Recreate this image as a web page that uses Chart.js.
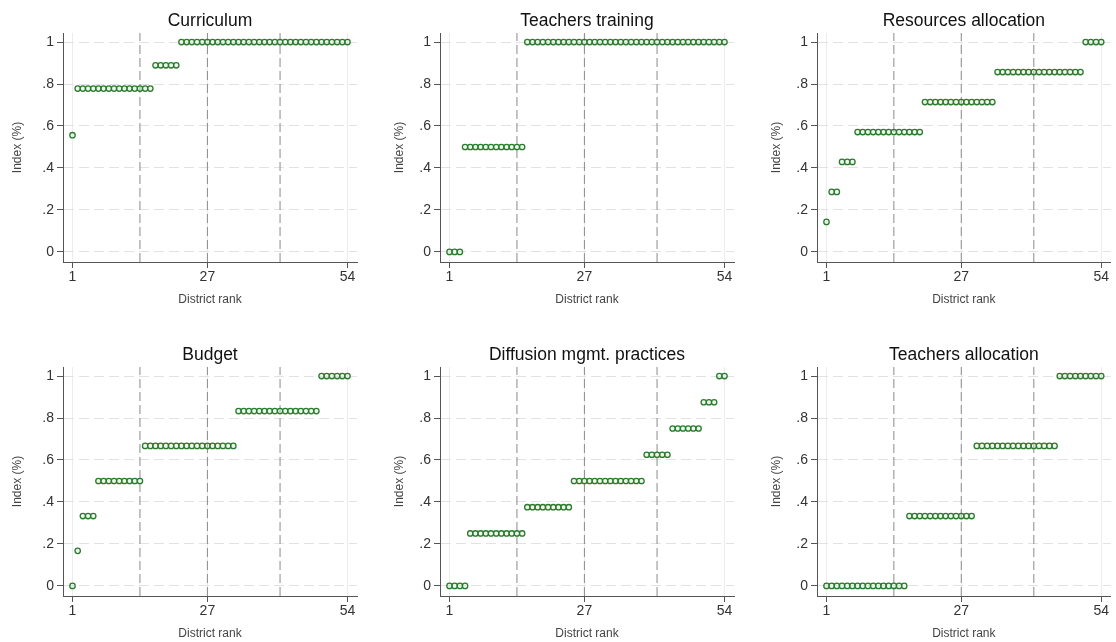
<!DOCTYPE html>
<html lang="en">
<head>
  <meta charset="UTF-8">
  <title>District rank indices</title>
  <script src="https://cdn.jsdelivr.net/npm/chart.js"></script>
  <style>
    html, body { margin: 0; padding: 0; background: #fff; overflow: hidden; }
    .panel { position: absolute; width: 372px; height: 334px; }
  </style>
</head>
<body>

  <div class="panel" style="left:0;top:0"><canvas id="p1"></canvas></div>
  <div class="panel" style="left:372px;top:0"><canvas id="p2"></canvas></div>
  <div class="panel" style="left:744px;top:0"><canvas id="p3"></canvas></div>
  <div class="panel" style="left:0;top:334px"><canvas id="p4"></canvas></div>
  <div class="panel" style="left:372px;top:334px"><canvas id="p5"></canvas></div>
  <div class="panel" style="left:744px;top:334px"><canvas id="p6"></canvas></div>

<script>
  // x: district rank, ticks and the dashed quartile lines
  const districtRank = [
     1, 2, 3, 4, 5, 6, 7, 8, 9,10,11,12,13,14,15,16,17,18,
    19,20,21,22,23,24,25,26,27,28,29,30,31,32,33,34,35,36,
    37,38,39,40,41,42,43,44,45,46,47,48,49,50,51,52,53,54
  ];
  const xTicks       = [1, 27, 54];
  const quartileRank = [14, 27, 41];

  // y: index ticks
  const yTicks      = [0, 0.2, 0.4, 0.6, 0.8, 1];
  const yTickLabels = ['0', '.2', '.4', '.6', '.8', '1'];

  // panel titles
  const titles = ['Curriculum', 'Teachers training', 'Resources allocation',
                  'Budget', 'Diffusion mgmt. practices', 'Teachers allocation'];

  // index values, one per district (rank 1..54)
  const curriculum = [
    0.556,
    0.778,0.778,0.778,0.778,0.778,0.778,0.778,0.778,0.778,0.778,0.778,0.778,0.778,0.778,0.778,
    0.889,0.889,0.889,0.889,0.889,
    1,1,1,1,1,1,1,1,1,1,1,1,1,1,1,1,1,1,1,1,1,1,1,1,1,1,1,1,1,1,1,1,1
  ];
  const teachersTraining = [
    0,0,0,
    0.5,0.5,0.5,0.5,0.5,0.5,0.5,0.5,0.5,0.5,0.5,0.5,
    1,1,1,1,1,1,1,1,1,1,1,1,1,1,1,1,1,1,1,1,1,1,1,1,1,1,1,1,1,1,1,1,1,1,1,1,1,1,1
  ];
  const resourcesAllocation = [
    0.143,
    0.286,0.286,
    0.429,0.429,0.429,
    0.571,0.571,0.571,0.571,0.571,0.571,0.571,0.571,0.571,0.571,0.571,0.571,0.571,
    0.714,0.714,0.714,0.714,0.714,0.714,0.714,0.714,0.714,0.714,0.714,0.714,0.714,0.714,
    0.857,0.857,0.857,0.857,0.857,0.857,0.857,0.857,0.857,0.857,0.857,0.857,0.857,0.857,0.857,0.857,0.857,
    1,1,1,1
  ];
  const budget = [
    0,
    0.167,
    0.333,0.333,0.333,
    0.5,0.5,0.5,0.5,0.5,0.5,0.5,0.5,0.5,
    0.667,0.667,0.667,0.667,0.667,0.667,0.667,0.667,0.667,0.667,0.667,0.667,0.667,0.667,0.667,0.667,0.667,0.667,
    0.833,0.833,0.833,0.833,0.833,0.833,0.833,0.833,0.833,0.833,0.833,0.833,0.833,0.833,0.833,0.833,
    1,1,1,1,1,1
  ];
  const diffusionMgmt = [
    0,0,0,0,
    0.25,0.25,0.25,0.25,0.25,0.25,0.25,0.25,0.25,0.25,0.25,
    0.375,0.375,0.375,0.375,0.375,0.375,0.375,0.375,0.375,
    0.5,0.5,0.5,0.5,0.5,0.5,0.5,0.5,0.5,0.5,0.5,0.5,0.5,0.5,
    0.625,0.625,0.625,0.625,0.625,
    0.75,0.75,0.75,0.75,0.75,0.75,
    0.875,0.875,0.875,
    1,1
  ];
  const teachersAllocation = [
    0,0,0,0,0,0,0,0,0,0,0,0,0,0,0,0,
    0.333,0.333,0.333,0.333,0.333,0.333,0.333,0.333,0.333,0.333,0.333,0.333,0.333,
    0.667,0.667,0.667,0.667,0.667,0.667,0.667,0.667,0.667,0.667,0.667,0.667,0.667,0.667,0.667,0.667,
    1,1,1,1,1,1,1,1,1
  ];

  const X_MIN = -0.83, X_MAX = 55.83;
  const Y_MIN = -0.048, Y_MAX = 1.043;

  const FONT = '"Liberation Sans", Arial, sans-serif';
  const GREEN = '#2b7a2e';

  // column-dependent gaps: [title pad, y-axis width, right pad]
  const colLayout = [
    { padLeft: 10, yWidth: 53, padRight: 15 },
    { padLeft: 20, yWidth: 48, padRight: 10 },
    { padLeft: 25, yWidth: 48, padRight: 5 }
  ];

  // center the panel title over the plot region, like Stata does
  const titleOverPlot = {
    id: 'titleOverPlot',
    afterLayout(chart) {
      const t = chart.titleBlock;
      if (!t) return;
      t.left = chart.chartArea.left;
      t.right = chart.chartArea.right;
      t.width = t.right - t.left;
    }
  };

  function makePanel(id, title, values, col) {
    const lay = colLayout[col];
    const canvas = document.getElementById(id);
    canvas.width = 372; canvas.height = 334;

    const points = districtRank.map((r, i) => ({ x: r, y: values[i] }));
    const qLines = quartileRank.map(q => ({
      type: 'line',
      data: [{ x: q, y: Y_MIN }, { x: q, y: Y_MAX }],
      borderColor: '#8a8a8a',
      borderWidth: 1,
      borderDash: [9, 4],
      pointRadius: 0,
      order: 2
    }));

    new Chart(canvas, {
      type: 'scatter',
      data: {
        datasets: [{
          data: points,
          pointStyle: 'circle',
          pointRadius: 2.7,
          borderWidth: 1.3,
          borderColor: GREEN,
          backgroundColor: 'rgba(200,235,200,0.35)',
          order: 1
        }, ...qLines]
      },
      options: {
        responsive: false,
        animation: false,
        events: [],
        layout: { padding: { left: lay.padLeft, right: lay.padRight, top: 0, bottom: 27 } },
        plugins: {
          legend: { display: false },
          tooltip: { enabled: false },
          title: {
            display: true, text: title, color: '#111',
            font: { family: FONT, size: 17.5, weight: 'normal' },
            padding: { top: 11, bottom: 1 }
          }
        },
        scales: {
          x: {
            type: 'linear', min: X_MIN, max: X_MAX,
            afterBuildTicks: s => { s.ticks = xTicks.map(v => ({ value: v })); },
            afterFit: s => { s.height = 45; },
            grid: { color: '#ececec', lineWidth: 1, tickLength: 6, tickColor: '#555' },
            border: { color: '#555', width: 1 },
            ticks: { color: '#333', padding: 1, maxRotation: 0, font: { family: FONT, size: 14 } },
            title: { display: true, text: 'District rank', color: '#444', padding: 0,
                     font: { family: FONT, size: 12 } }
          },
          y: {
            type: 'linear', min: Y_MIN, max: Y_MAX,
            afterBuildTicks: s => { s.ticks = yTicks.map(v => ({ value: v })); },
            afterFit: s => { s.width = lay.yWidth; },
            grid: { color: '#e2e2e2', lineWidth: 1, tickLength: 6, tickColor: '#555' },
            border: { color: '#555', width: 1, dash: [10, 5] },
            ticks: {
              color: '#333', padding: 3, font: { family: FONT, size: 14 },
              callback: (v) => yTickLabels[yTicks.indexOf(v)]
            },
            title: { display: true, text: 'Index (%)', color: '#444', padding: 0,
                     font: { family: FONT, size: 12 } }
          }
        }
      },
      plugins: [titleOverPlot]
    });
  }

  makePanel('p1', titles[0], curriculum,          0);
  makePanel('p2', titles[1], teachersTraining,    1);
  makePanel('p3', titles[2], resourcesAllocation, 2);
  makePanel('p4', titles[3], budget,              0);
  makePanel('p5', titles[4], diffusionMgmt,       1);
  makePanel('p6', titles[5], teachersAllocation,  2);
</script>

</body>
</html>
